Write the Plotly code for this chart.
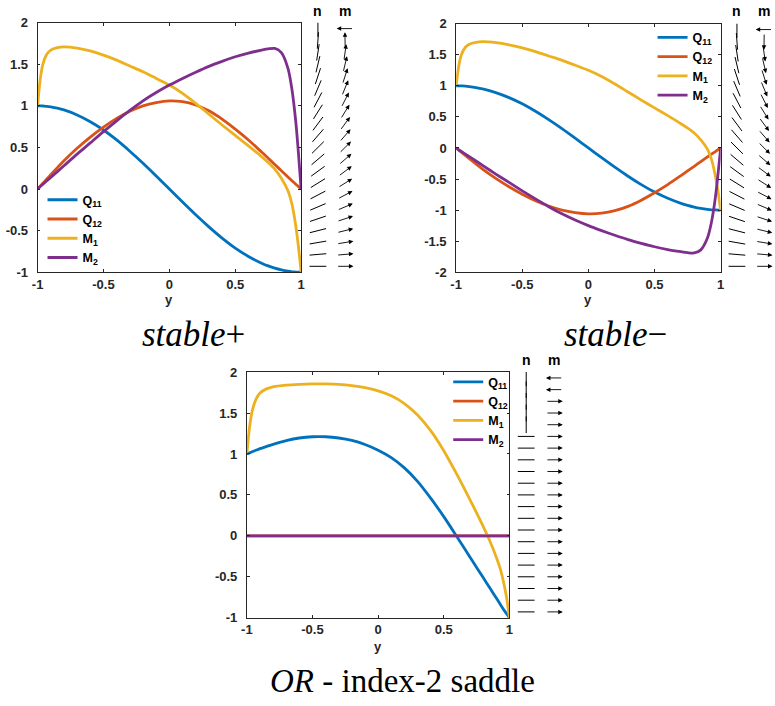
import math
import plotly.graph_objects as go

FIG_W, FIG_H = 775, 706

# positions across the channel where the profiles are sampled
y_pts = [-1.0, -0.98, -0.96, -0.93, -0.9, -0.85, -0.8, -0.7, -0.6, -0.5, -0.4, -0.3, -0.2, -0.1, 0.0,
         0.1, 0.2, 0.3, 0.4, 0.5, 0.6, 0.7, 0.75, 0.8, 0.85, 0.9, 0.93, 0.96, 0.98, 1.0]

# stable+ solution
sp_Q11 = [1.0, 1.0, 0.998, 0.995, 0.988, 0.972, 0.951, 0.891, 0.81, 0.71, 0.59, 0.455, 0.31, 0.157, 0.0,
          -0.157, -0.31, -0.455, -0.59, -0.71, -0.81, -0.891, -0.924, -0.951, -0.972, -0.988, -0.995, -0.998, -1.0, -1.0]
sp_Q12 = [0.0, 0.034, 0.069, 0.12, 0.172, 0.257, 0.34, 0.49, 0.625, 0.745, 0.85, 0.935, 1.0, 1.04, 1.06,
          1.05, 1.01, 0.94, 0.84, 0.72, 0.59, 0.445, 0.37, 0.295, 0.22, 0.145, 0.10, 0.058, 0.029, 0.0]
sp_M1 = [1.0, 1.32, 1.50, 1.62, 1.67, 1.70, 1.71, 1.695, 1.66, 1.61, 1.55, 1.48, 1.41, 1.33, 1.25,
         1.15, 1.03, 0.90, 0.77, 0.645, 0.52, 0.39, 0.32, 0.24, 0.13, -0.02, -0.18, -0.45, -0.7, -1.0]
sp_M2 = [0.0, 0.03, 0.057, 0.10, 0.14, 0.21, 0.28, 0.42, 0.555, 0.69, 0.82, 0.945, 1.06, 1.16, 1.25,
         1.33, 1.405, 1.475, 1.535, 1.59, 1.635, 1.67, 1.685, 1.69, 1.64, 1.45, 1.2, 0.8, 0.42, 0.0]

# stable- solution
sm_Q11 = [1.0, 1.0, 0.998, 0.995, 0.988, 0.972, 0.951, 0.891, 0.81, 0.71, 0.59, 0.455, 0.31, 0.157, 0.0,
          -0.157, -0.31, -0.455, -0.59, -0.71, -0.81, -0.891, -0.924, -0.951, -0.972, -0.988, -0.995, -0.998, -1.0, -1.0]
sm_Q12 = [0.0, -0.034, -0.069, -0.12, -0.172, -0.257, -0.34, -0.49, -0.625, -0.745, -0.85, -0.935, -1.0, -1.04, -1.06,
          -1.05, -1.01, -0.94, -0.84, -0.72, -0.59, -0.445, -0.37, -0.295, -0.22, -0.145, -0.10, -0.058, -0.029, 0.0]
sm_M1 = [1.0, 1.32, 1.50, 1.62, 1.67, 1.70, 1.71, 1.695, 1.66, 1.61, 1.55, 1.48, 1.41, 1.33, 1.25,
         1.15, 1.03, 0.90, 0.77, 0.645, 0.52, 0.39, 0.32, 0.24, 0.13, -0.02, -0.18, -0.45, -0.7, -1.0]
sm_M2 = [0.0, -0.03, -0.057, -0.10, -0.14, -0.21, -0.28, -0.42, -0.555, -0.69, -0.82, -0.945, -1.06, -1.16, -1.25,
         -1.33, -1.405, -1.475, -1.535, -1.59, -1.635, -1.67, -1.685, -1.69, -1.64, -1.45, -1.2, -0.8, -0.42, 0.0]

# OR (index-2 saddle) solution
or_Q11 = [1.0, 1.013, 1.027, 1.046, 1.065, 1.092, 1.118, 1.163, 1.195, 1.21, 1.21, 1.195, 1.165, 1.115, 1.045,
          0.955, 0.83, 0.665, 0.46, 0.235, -0.01, -0.26, -0.385, -0.51, -0.635, -0.76, -0.835, -0.91, -0.955, -1.0]
or_Q12 = [0.0, 0.0, 0.0, 0.0, 0.0, 0.0, 0.0, 0.0, 0.0, 0.0, 0.0, 0.0, 0.0, 0.0, 0.0,
          0.0, 0.0, 0.0, 0.0, 0.0, 0.0, 0.0, 0.0, 0.0, 0.0, 0.0, 0.0, 0.0, 0.0, 0.0]
or_M1 = [1.0, 1.32, 1.52, 1.67, 1.745, 1.795, 1.82, 1.84, 1.85, 1.855, 1.855, 1.85, 1.835, 1.81, 1.77,
         1.71, 1.615, 1.475, 1.285, 1.04, 0.75, 0.44, 0.28, 0.115, -0.06, -0.26, -0.4, -0.6, -0.77, -1.0]
or_M2 = [0.0, 0.0, 0.0, 0.0, 0.0, 0.0, 0.0, 0.0, 0.0, 0.0, 0.0, 0.0, 0.0, 0.0, 0.0,
         0.0, 0.0, 0.0, 0.0, 0.0, 0.0, 0.0, 0.0, 0.0, 0.0, 0.0, 0.0, 0.0, 0.0, 0.0]

# rows of the director (n) and polarisation (m) glyph columns
rows = [-1.0, -0.9, -0.8, -0.7, -0.6, -0.5, -0.4, -0.3, -0.2, -0.1, 0.0,
        0.1, 0.2, 0.3, 0.4, 0.5, 0.6, 0.7, 0.8, 0.9, 1.0]

series_names = ["Q<sub>11</sub>", "Q<sub>12</sub>", "M<sub>1</sub>", "M<sub>2</sub>"]
series_colors = ["#0072BD", "#D95319", "#EDB120", "#7E2F8E"]

x_tickvals = [-1, -0.5, 0, 0.5, 1]
x_ticktext = ["-1", "-0.5", "0", "0.5", "1"]
y_tickvals_a = [-1, -0.5, 0, 0.5, 1, 1.5, 2]
y_ticktext_a = ["-1", "-0.5", "0", "0.5", "1", "1.5", "2"]
y_tickvals_b = [-2, -1.5, -1, -0.5, 0, 0.5, 1, 1.5, 2]
y_ticktext_b = ["-2", "-1.5", "-1", "-0.5", "0", "0.5", "1", "1.5", "2"]

captions = ["<i>stable</i>+", "<i>stable</i>\u2212", "<i>OR</i> - index-2 saddle"]

# layout of each panel, in pixels: plot box, glyph strip, header row, legend, caption
panels = [
    dict(data=(sp_Q11, sp_Q12, sp_M1, sp_M2), box=(32, 299, 16, 271), yrange=[-1, 2],
         yt=(y_tickvals_a, y_ticktext_a), strip=(300, 378, 316, 343.5), head_y=None,
         legend=(37, 182), caption=(190, 335, 35), title_y=299),
    dict(data=(sm_Q11, sm_Q12, sm_M1, sm_M2), box=(456, 724, 17, 271), yrange=[-2, 2],
         yt=(y_tickvals_b, y_ticktext_b), strip=(726, 775, 740.5, 768), head_y=None,
         legend=(655, 16), caption=(617, 335, 35), title_y=299),
    dict(data=(or_Q11, or_Q12, or_M1, or_M2), box=(244, 510, 373, 624), yrange=[-1, 2],
         yt=(y_tickvals_a, y_ticktext_a), strip=(512, 590, 527, 555.5), head_y=361,
         legend=(448, 368), caption=(402, 689, 33), title_y=653),
]

INK = "#262626"
TICK_FONT = dict(family="Liberation Sans", size=13, color=INK, weight="bold")
GLYPH_LEN = 17.0  # pixels


def px_x(px):
    return px / FIG_W


def px_y(py):
    return 1 - py / FIG_H


fig = go.Figure()
layout = dict(
    width=FIG_W, height=FIG_H, margin=dict(l=0, r=0, t=0, b=0),
    paper_bgcolor="white", plot_bgcolor="white", showlegend=True,
)
annotations = []
row_index = {round(v, 3): i for i, v in enumerate(y_pts)}


def label(x, y, text, font, yanchor="middle"):
    return dict(x=px_x(x), y=px_y(y), xref="paper", yref="paper", text=text,
                xanchor="center", yanchor=yanchor, showarrow=False, font=font, borderpad=0)


for k, p in enumerate(panels):
    main_n = k + 1
    strip_n = k + 4
    xa = "x" if main_n == 1 else f"x{main_n}"
    ya = "y" if main_n == 1 else f"y{main_n}"
    xs, ys = f"x{strip_n}", f"y{strip_n}"
    leg = "legend" if k == 0 else f"legend{k + 1}"

    x0, x1, top, bot = p["box"]
    ydom = [px_y(bot), px_y(top)]

    # profile curves
    for name, color, vals in zip(series_names, series_colors, p["data"]):
        fig.add_trace(go.Scatter(
            x=y_pts, y=vals, mode="lines", name=name, legend=leg,
            line=dict(color=color, width=2.8, shape="spline", smoothing=0.8),
            xaxis=xa, yaxis=ya, hoverinfo="skip",
        ))

    axis_style = dict(
        showline=True, linecolor=INK, linewidth=0.8, mirror="allticks",
        ticks="inside", ticklen=3, tickwidth=0.8, tickcolor=INK,
        showgrid=False, zeroline=False, tickfont=TICK_FONT,
    )
    layout["xaxis" if main_n == 1 else f"xaxis{main_n}"] = dict(
        axis_style, domain=[px_x(x0), px_x(x1)], range=[-1, 1],
        tickvals=x_tickvals, ticktext=x_ticktext, anchor=ya, ticklabelstandoff=0,
    )
    layout["yaxis" if main_n == 1 else f"yaxis{main_n}"] = dict(
        axis_style, domain=ydom, range=p["yrange"],
        tickvals=p["yt"][0], ticktext=p["yt"][1], anchor=xa, ticklabelstandoff=6,
    )

    # glyph strip: director n (headless segments) and polarisation m (arrows)
    sx0, sx1, cn, cm = p["strip"]
    yr = [-1.05, 1.05]
    ppu = (bot - top) / (yr[1] - yr[0])
    layout[f"xaxis{strip_n}"] = dict(domain=[px_x(sx0), px_x(sx1)], range=[0, (sx1 - sx0) / ppu],
                                     visible=False, anchor=ys, fixedrange=True)
    layout[f"yaxis{strip_n}"] = dict(domain=ydom, range=yr, visible=False, anchor=xs, fixedrange=True)
    xn = (cn - sx0) / ppu
    xm = (cm - sx0) / ppu
    half = GLYPH_LEN / 2 / ppu

    q11, q12, m1, m2 = p["data"]
    seg_x, seg_y = [], []
    for r in rows:
        i = row_index[round(r, 3)]
        theta = 0.5 * math.atan2(q12[i], q11[i])
        dx, dy = half * math.cos(theta), half * math.sin(theta)
        seg_x += [xn - dx, xn + dx, None]
        seg_y += [r - dy, r + dy, None]
        phi = math.atan2(m2[i], m1[i])
        ax_, ay_ = half * math.cos(phi), half * math.sin(phi)
        annotations.append(dict(
            x=xm + ax_, y=r + ay_, ax=xm - ax_, ay=r - ay_,
            xref=xs, yref=ys, axref=xs, ayref=ys, text="", showarrow=True,
            arrowhead=2, arrowsize=1.0, arrowwidth=0.9, arrowcolor="black", standoff=0,
        ))
    fig.add_trace(go.Scatter(
        x=seg_x, y=seg_y, mode="lines", line=dict(color="black", width=1),
        xaxis=xs, yaxis=ys, showlegend=False, hoverinfo="skip",
    ))

    # column headers (top row panels sit flush with the page top)
    head_font = dict(family="Liberation Sans", size=14, color="black", weight="bold")
    for text, cx in (("n", cn), ("m", cm)):
        if p["head_y"] is None:
            annotations.append(label(cx, -5, text, head_font, yanchor="top"))
        else:
            annotations.append(label(cx, p["head_y"], text, head_font))

    # x-axis title
    annotations.append(label((x0 + x1) / 2, p["title_y"], "y",
                             dict(family="Liberation Sans", size=13, color=INK, weight="bold")))

    # caption under the panel
    cx, cy, cs = p["caption"]
    annotations.append(label(cx, cy, captions[k], dict(family="Liberation Serif", size=cs, color="black")))

    lx, ly = p["legend"]
    layout[leg] = dict(
        x=px_x(lx), y=px_y(ly), xanchor="left", yanchor="top",
        bgcolor="rgba(0,0,0,0)", borderwidth=0, itemwidth=30,
        font=dict(family="Liberation Sans", size=12.5, color="black", weight="bold"),
    )

layout["annotations"] = annotations
fig.update_layout(**layout)
fig.write_html("out.html")
